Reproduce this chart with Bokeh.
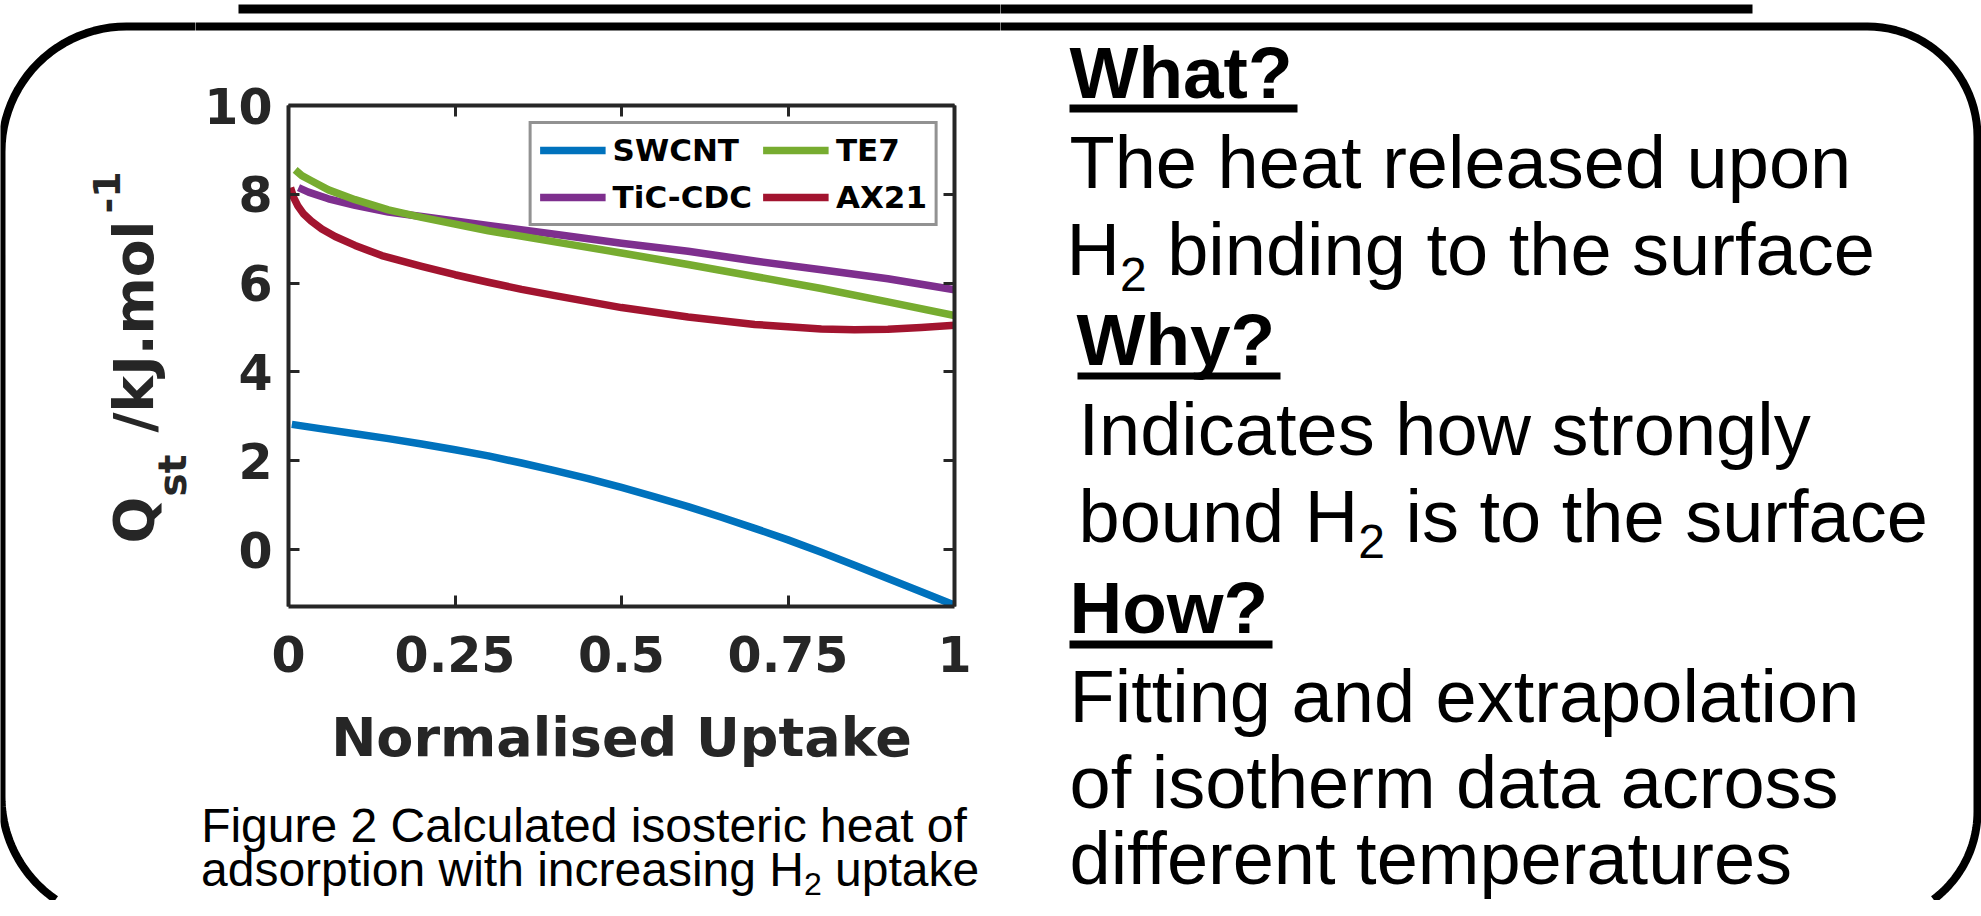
from bokeh.plotting import figure
from bokeh.layouts import row, column
from bokeh.models import (Range1d, LinearAxis, FixedTicker, CustomJSTickFormatter,
                          Label, Legend, LegendItem)
from bokeh.embed import file_html
from bokeh.resources import INLINE
import math

# ---------------- data ----------------
series_names = ["SWCNT", "TiC-CDC", "TE7", "AX21"]
series_colors = ["#0072BD", "#7E2F8E", "#77AC30", "#A2142F"]

uptake_swcnt = [0.005, 0.05, 0.1, 0.15, 0.2, 0.25, 0.3, 0.35, 0.4, 0.45, 0.5, 0.55, 0.6,
                0.65, 0.7, 0.75, 0.8, 0.85, 0.9, 0.95, 1.0]
qst_swcnt = [2.82, 2.72, 2.61, 2.50, 2.38, 2.25, 2.11, 1.95, 1.78, 1.60, 1.40, 1.19, 0.97,
             0.73, 0.48, 0.22, -0.06, -0.35, -0.65, -0.95, -1.25]

uptake_tic = [0.015, 0.03, 0.06, 0.1, 0.15, 0.2, 0.3, 0.4, 0.5, 0.6, 0.7, 0.8, 0.9, 1.0]
qst_tic = [8.15, 8.05, 7.90, 7.75, 7.60, 7.50, 7.30, 7.10, 6.90, 6.72, 6.50, 6.30, 6.10, 5.85]

uptake_te7 = [0.01, 0.02, 0.035, 0.06, 0.1, 0.15, 0.2, 0.3, 0.4, 0.5, 0.6, 0.7, 0.8, 0.9, 1.0]
qst_te7 = [8.55, 8.42, 8.30, 8.10, 7.88, 7.65, 7.48, 7.18, 6.93, 6.68, 6.42, 6.15, 5.88, 5.58, 5.27]

uptake_ax21 = [0.003, 0.008, 0.014, 0.022, 0.034, 0.05, 0.07, 0.1, 0.14, 0.2, 0.25, 0.3, 0.35,
               0.4, 0.5, 0.6, 0.7, 0.8, 0.85, 0.9, 0.95, 1.0]
qst_ax21 = [8.15, 7.92, 7.74, 7.57, 7.40, 7.22, 7.05, 6.85, 6.62, 6.38, 6.19, 6.02, 5.86,
            5.72, 5.45, 5.24, 5.07, 4.97, 4.95, 4.96, 5.00, 5.05]

x_ticks = [0, 0.25, 0.5, 0.75, 1]
x_tick_labels = ["0", "0.25", "0.5", "0.75", "1"]
y_ticks = [0, 2, 4, 6, 8, 10]
x_limits = (0, 1)
y_limits = (-1.28, 10)

x_title = "Normalised Uptake"
caption_line1 = "Figure 2 Calculated isosteric heat of"

# ---------------- layout constants (page pixels) ----------------
PW, PH = 1981, 900
FL, FR, FT, FB = 288, 954, 105, 606        # plot frame on the page
CX0, CX1, CY0, CY1 = 195, 1000, 60, 700    # chart figure region on the page
AX = "#262626"
BL = 0.346  # Label anchor sits this fraction of the font size above the baseline

# rounded panel border (decoration): edges and corner radii in page pixels
B_L, B_R, B_T, B_B = 1, 1977, 26, 921
R_TL, R_TR, R_BR, R_BL = 125, 110, 110, 125


def _corner(cx, cy, r, a0, a1, n=24):
    return [(cx + r * math.cos(math.radians(a0 + (a1 - a0) * k / n)),
             cy + r * math.sin(math.radians(a0 + (a1 - a0) * k / n))) for k in range(n + 1)]


# open path: starts where the lower-left corner leaves the page, ends where the
# lower-right corner leaves it (the bottom edge lies below the visible page)
_cy_bl = B_B - R_BL
_cy_br = B_B - R_BR
_a_bl = 180 - math.degrees(math.asin(min(1.0, (PH - 1 - _cy_bl) / R_BL)))
_a_br = math.degrees(math.asin(min(1.0, (PH - 1 - _cy_br) / R_BR)))
border_pts = (_corner(B_L + R_BL, _cy_bl, R_BL, _a_bl, 180)
              + _corner(B_L + R_TL, B_T + R_TL, R_TL, 180, 270)
              + _corner(B_R - R_TR, B_T + R_TR, R_TR, 270, 360)
              + _corner(B_R - R_BR, _cy_br, R_BR, 0, _a_br))
border_x = [pt[0] for pt in border_pts]
border_y = [pt[1] for pt in border_pts]


def bg(x0, x1, y0, y1):
    """A background panel whose data coordinates are page pixels."""
    f = figure(width=x1 - x0, height=y1 - y0, x_range=Range1d(x0, x1), y_range=Range1d(y1, y0),
               output_backend="svg", toolbar_location=None, title=None,
               x_axis_type=None, y_axis_type=None, min_border=0)
    f.frame_align = False
    f.outline_line_color = None
    f.background_fill_color = "white"
    f.border_fill_color = "white"
    f.line(border_x, border_y, line_color="black", line_width=8, line_join="round")
    # underline of the (cut off) title above
    f.quad(left=[238], right=[1752], top=[4], bottom=[13], fill_color="black", line_color=None)
    return f


def txt(f, x, y, s, size, bold=False, font="Liberation Sans", align="left", rotated=False, color="black"):
    # (x, y): start of the text on its baseline, in page pixels
    if rotated:
        x, angle = x - BL * size, math.pi / 2
    else:
        y, angle = y - BL * size, 0.0
    f.add_layout(Label(x=x, y=y, text=s, text_font=font, text_font_size=f"{size}px",
                       text_font_style="bold" if bold else "normal",
                       text_align=align, text_baseline="alphabetic",
                       angle=angle, text_color=color))


def bar(f, l, r, t, b):
    f.quad(left=[l], right=[r], top=[t], bottom=[b], fill_color="black", line_color=None)


# ---------------- chart ----------------
p = figure(width=CX1 - CX0, height=CY1 - CY0, x_range=Range1d(*x_limits), y_range=Range1d(*y_limits),
           output_backend="svg", toolbar_location=None, title=None,
           x_axis_type=None, y_axis_type=None,
           min_border_left=FL - CX0, min_border_right=CX1 - FR,
           min_border_top=FT - CY0, min_border_bottom=CY1 - FB)
p.frame_align = False
p.outline_line_color = None
p.background_fill_color = "white"
p.border_fill_color = "white"


def style_axis(ax):
    ax.axis_line_width = 4
    ax.axis_line_color = AX
    ax.major_tick_line_width = 3
    ax.major_tick_line_color = AX
    ax.major_tick_in = 11
    ax.major_tick_out = 0
    ax.minor_tick_line_color = None
    ax.major_label_text_font = "DejaVu Sans"
    ax.major_label_text_font_style = "bold"
    ax.major_label_text_font_size = "49px"
    ax.major_label_text_color = AX


xfmt = CustomJSTickFormatter(args=dict(tk=x_ticks, lb=x_tick_labels),
                             code="const i = tk.indexOf(tick); return i >= 0 ? lb[i] : '';")
blank = CustomJSTickFormatter(code="return '';")

xb = LinearAxis(ticker=FixedTicker(ticks=x_ticks), formatter=xfmt)
style_axis(xb)
xb.major_label_standoff = 29
p.add_layout(xb, "below")

yl = LinearAxis(ticker=FixedTicker(ticks=y_ticks))
style_axis(yl)
yl.major_label_standoff = 16
p.add_layout(yl, "left")

xt = LinearAxis(ticker=FixedTicker(ticks=x_ticks), formatter=blank)
style_axis(xt)
xt.major_label_standoff = 0
p.add_layout(xt, "above")

yr = LinearAxis(ticker=FixedTicker(ticks=y_ticks), formatter=blank)
style_axis(yr)
yr.major_label_standoff = 0
p.add_layout(yr, "right")

xs = [uptake_swcnt, uptake_tic, uptake_te7, uptake_ax21]
ys = [qst_swcnt, qst_tic, qst_te7, qst_ax21]
rends = []
for x, y, c in zip(xs, ys, series_colors):
    rends.append(p.line(x, y, line_width=7.5, line_color=c, line_join="round"))

legend = Legend(items=[LegendItem(label=n, renderers=[r]) for n, r in zip(series_names, rends)],
                location="top_right", orientation="vertical", ncols=2,
                margin=16, padding=8, spacing=11,
                glyph_width=66, glyph_height=36, label_height=36, label_standoff=7,
                label_text_font="DejaVu Sans", label_text_font_style="bold",
                label_text_font_size="31px", label_text_color="black",
                border_line_color=AX, border_line_width=3,
                background_fill_color="white", background_fill_alpha=1)
p.add_layout(legend)

# ---------------- surrounding panels ----------------
left = bg(0, CX0, 0, PH)
top = bg(CX0, CX1, 0, CY0)
bottom = bg(CX0, CX1, CY1, PH)
right = bg(CX1, PW, 0, PH)

# y-axis title  Q_st /kJ.mol^-1  (rotated, reads bottom to top)
txt(left, 153, 543, "Q", 55, bold=True, font="DejaVu Sans", rotated=True, color=AX)
txt(left, 185, 496, "st", 39, bold=True, font="DejaVu Sans", rotated=True, color=AX)
txt(left, 153, 432, "/kJ.mol", 55, bold=True, font="DejaVu Sans", rotated=True, color=AX)
txt(left, 119, 213, "-1", 38, bold=True, font="DejaVu Sans", rotated=True, color=AX)

# x-axis title and caption
txt(bottom, (FL + FR) / 2, 756, x_title, 54, bold=True, font="DejaVu Sans", align="center", color=AX)
txt(bottom, 583.5, 842, caption_line1, 48, align="center")
x0 = 200.5
txt(bottom, x0, 886, "adsorption with increasing H", 48)
txt(bottom, x0 + 603, 895, "2", 32)
txt(bottom, x0 + 603 + 17.8 + 13.3, 886, "uptake", 48)

# right-hand notes
txt(right, 1069, 97, "What?", 73, bold=True)
bar(right, 1069, 1297, 104, 112)
txt(right, 1069, 188, "The heat released upon", 74)
txt(right, 1066, 275, "H", 74)
txt(right, 1119.4, 291, "2", 48)
txt(right, 1166.7, 275, "binding to the surface", 74)
txt(right, 1076, 364, "Why?", 73, bold=True)
bar(right, 1077, 1280, 372, 379)
txt(right, 1078, 455, "Indicates how strongly", 74)
txt(right, 1078, 542, "bound H", 74)
txt(right, 1357.7, 558, "2", 48)
txt(right, 1405, 542, "is to the surface", 74)
txt(right, 1069, 632, "How?", 73, bold=True)
bar(right, 1069, 1272, 640, 648)
txt(right, 1069, 722, "Fitting and extrapolation", 74)
txt(right, 1069, 808, "of isotherm data across", 74)
txt(right, 1069, 884, "different temperatures", 74)

layout = row(left, column(top, p, bottom, spacing=0), right, spacing=0)

open("out.html", "w").write(file_html(layout, INLINE))
